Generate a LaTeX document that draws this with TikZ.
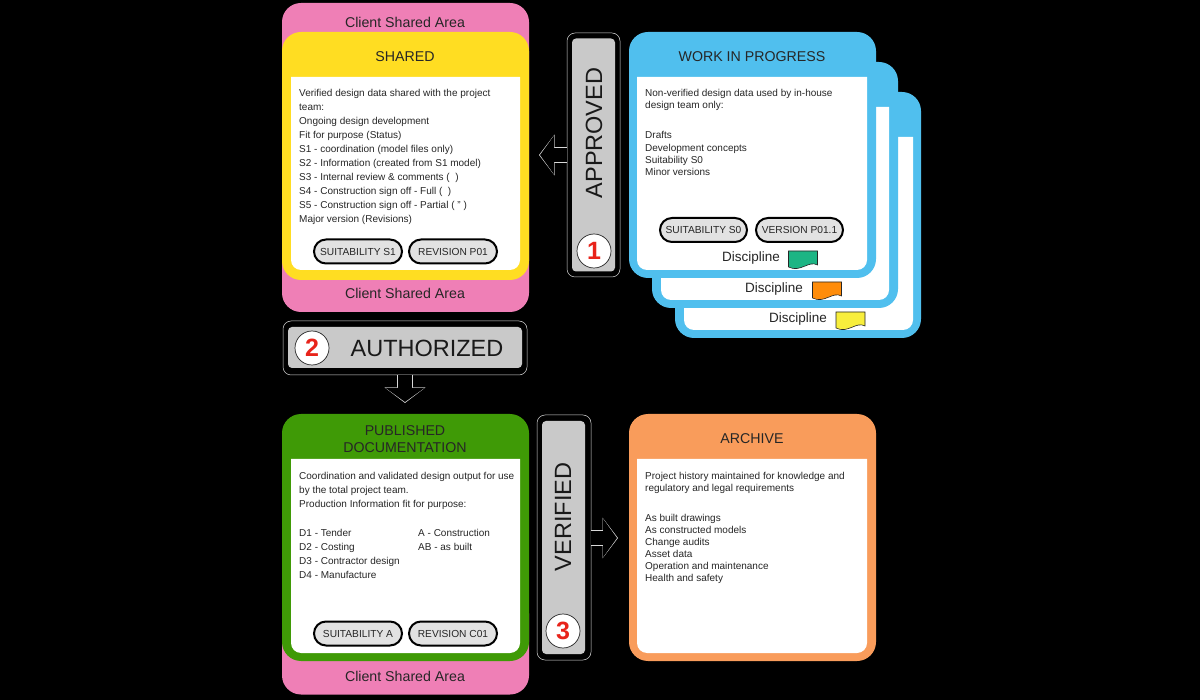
\documentclass[tikz,border=0pt]{standalone}
\usepackage{fontspec}
\setmainfont{Liberation Sans}
\usetikzlibrary{arrows.meta}
\definecolor{pinkp}{HTML}{EF7FB6}
\definecolor{yellowp}{HTML}{FFDD22}
\definecolor{bluep}{HTML}{50BFEE}
\definecolor{greenp}{HTML}{3F9A06}
\definecolor{orangep}{HTML}{F99C5B}
\definecolor{inkc}{HTML}{262626}
\definecolor{barc}{HTML}{C9C9C9}
\definecolor{pillc}{HTML}{E2E2E2}
\definecolor{flaggreen}{HTML}{1DB584}
\definecolor{flagorange}{HTML}{FF8C0A}
\definecolor{flagyellow}{HTML}{F8EE3C}
\definecolor{numred}{HTML}{E8231A}
\tikzset{
  panel/.style={rounded corners=19pt,inner sep=0pt,outer sep=0pt},
  title/.style={text=inkc,font=\fontsize{14.2}{17}\selectfont,align=center,inner sep=0pt},
  bodytext/.style={text=inkc,font=\fontsize{10}{#1}\selectfont,align=left,anchor=north west,inner sep=0pt},
  pill/.style={draw=black,line width=2pt,fill=pillc,rounded corners=12pt,minimum height=24pt,inner sep=0pt,
    text=inkc,font=\fontsize{10.2}{12}\selectfont},
  barouter/.style={fill=black,draw=white!85!black,line width=.5pt,rounded corners=8pt,inner sep=0pt,outer sep=0pt},
  barinner/.style={fill=barc,rounded corners=4pt,inner sep=0pt,outer sep=0pt},
  bartext/.style={text=black!90,font=\fontsize{23.5}{26}\selectfont,inner sep=0pt},
  numdisc/.style={circle,fill=white,draw=inkc,line width=.7pt,minimum size=34pt,inner sep=0pt,
    text=numred,font=\fontsize{25}{27}\selectfont\bfseries},
  disc/.style={text=inkc,font=\fontsize{13.5}{15}\selectfont,inner sep=0pt},
  blockarrow/.style={draw=black,line width=14.5pt,shorten >=1pt,-{Triangle[length=14pt,width=38pt]},
    preaction={draw=white!85!black,line width=15.5pt,shorten >=0pt,-{Triangle[length=15.5pt,width=40pt]}}},
  flagshape/.style={draw=inkc,line width=.6pt}
}
\newcommand{\whitebody}[4]{%
  \fill[white] (#1,#2) -- (#3,#2) -- (#3,#4-10) arc[start angle=0,end angle=-90,radius=10pt]
    -- (#1+10,#4) arc[start angle=270,end angle=180,radius=10pt] -- cycle;}
\newcommand{\flagsheet}[4]{%
  \draw[flagshape,fill=#4] (#1,#2) -- (#1+29,#2) -- (#1+29,#3-3)
    .. controls (#1+20,#3-8) and (#1+12,#3+5) .. (#1,#3-1) -- cycle;}
\begin{document}
\begin{tikzpicture}[x=1pt,y=-1pt]
\useasboundingbox (0,0) rectangle (1200,700);
\fill[black] (0,0) rectangle (1200,700);

% Shared panel
\node[panel,fill=pinkp,minimum width=247pt,minimum height=309pt] (sharedpink) at (405.5,157.5) {};
\node[panel,fill=yellowp,minimum width=247pt,minimum height=248pt] (sharedcard) at (405.5,156) {};
\whitebody{291}{77}{520}{270}
\node[title] (clienta) at (405,22) {Client Shared Area};
\node[title] (clientb) at (405,293) {Client Shared Area};
\node[title] (sharedtitle) at (405,57) {SHARED};
\node[bodytext=14] (sharedtext) at (299,89) {Verified design data shared with the project\\team:\\Ongoing design development\\Fit for purpose (Status)\\S1 - coordination (model files only)\\S2 - Information (created from S1 model)\\S3 - Internal review \& comments (\ \ )\\S4 - Construction sign off - Full (\ \ )\\S5 - Construction sign off - Partial ( " )\\Major version (Revisions)};
\node[pill,minimum width=88pt] (pilla) at (358,251.5) {SUITABILITY S1};
\node[pill,minimum width=88pt] (pillb) at (453,251.5) {REVISION P01};

% Work in progress stack
\node[panel,fill=bluep,minimum width=246pt,minimum height=246pt] (wipc) at (798,215) {};
\whitebody{684}{137}{913}{330}
\node[panel,fill=bluep,minimum width=246pt,minimum height=246pt] (wipb) at (775,185) {};
\whitebody{661}{107}{889}{300}
\node[panel,fill=bluep,minimum width=247pt,minimum height=246pt] (wipa) at (752.5,155) {};
\whitebody{637}{77}{867}{270}
\node[title] (wiptitle) at (752,57) {WORK IN PROGRESS};
\node[bodytext=12.5] (wiptexta) at (645,89) {Non-verified design data used by in-house\\design team only:};
\node[bodytext=12.2] (wiptextb) at (645,131.5) {Drafts\\Development concepts\\Suitability S0\\Minor versions};
\node[pill,minimum width=87pt] (pillc) at (703.5,230) {SUITABILITY S0};
\node[pill,minimum width=87pt] (pilld) at (799.5,230) {VERSION P01.1};
\node[disc] (disca) at (751,258) {Discipline};
\node[disc] (discb) at (774,289) {Discipline};
\node[disc] (discc) at (798,319) {Discipline};
\flagsheet{788.5}{251}{268}{flaggreen}
\flagsheet{812.5}{282}{299}{flagorange}
\flagsheet{836}{312}{329}{flagyellow}

% Approved bar
\node[barouter,minimum width=53pt,minimum height=244pt] (approved) at (593.5,155) {};
\node[barinner,minimum width=43pt,minimum height=233pt] (approvedin) at (593.5,155) {};
\node[bartext,rotate=90] (approvedtext) at (594,133) {APPROVED};
\node[numdisc] (numa) at (594,251) {1};
\coordinate (tipa) at (539,155);
\draw[blockarrow] (approved.west |- tipa) -- (tipa);

% Authorized bar
\node[barouter,minimum width=244pt,minimum height=54pt] (authorized) at (405,348) {};
\node[barinner,minimum width=234pt,minimum height=41pt] (authorizedin) at (405,347.5) {};
\node[bartext] (authorizedtext) at (427,348) {AUTHORIZED};
\node[numdisc] (numb) at (312,348) {2};

% Published panel
\node[panel,fill=pinkp,minimum width=247pt,minimum height=100pt] (pubpink) at (405.5,644.5) {};
\node[panel,fill=greenp,minimum width=247pt,minimum height=247pt] (pubcard) at (405.5,537.5) {};
\whitebody{291}{459}{520}{653}
\coordinate (tipb) at (405,403);
\draw[blockarrow] (authorized.south) -- (tipb);
\node[title] (pubtitle) at (405,439.5) {PUBLISHED\\DOCUMENTATION};
\node[title] (clientc) at (405,676) {Client Shared Area};
\node[bodytext=14] (pubtext) at (299,472) {Coordination and validated design output for use\\by the total project team.\\Production Information fit for purpose:};
\node[bodytext=14] (publeft) at (299,529) {D1 - Tender\\D2 - Costing\\D3 - Contractor design\\D4 - Manufacture};
\node[bodytext=14] (pubright) at (418,529) {A - Construction\\AB - as built};
\node[pill,minimum width=88pt] (pille) at (358,633.5) {SUITABILITY A};
\node[pill,minimum width=88pt] (pillf) at (453,633.5) {REVISION C01};

% Verified bar
\node[barouter,minimum width=54pt,minimum height=245pt] (verified) at (564,537.5) {};
\node[barinner,minimum width=43pt,minimum height=233pt] (verifiedin) at (563.5,537.5) {};
\node[bartext,rotate=90] (verifiedtext) at (563,517) {VERIFIED};
\node[numdisc] (numc) at (563,631) {3};

% Archive
\node[panel,fill=orangep,minimum width=247pt,minimum height=247pt] (archive) at (752.5,537.5) {};
\whitebody{637}{459}{867}{653}
\node[title] (archivetitle) at (752,439) {ARCHIVE};
\node[bodytext=12.2] (archtexta) at (645,472) {Project history maintained for knowledge and\\regulatory and legal requirements};
\node[bodytext=12] (archtextb) at (645,514) {As built drawings\\As constructed models\\Change audits\\Asset data\\Operation and maintenance\\Health and safety};
\coordinate (tipc) at (618,538);
\draw[blockarrow] (verified.east |- tipc) -- (tipc);
\end{tikzpicture}
\end{document}
